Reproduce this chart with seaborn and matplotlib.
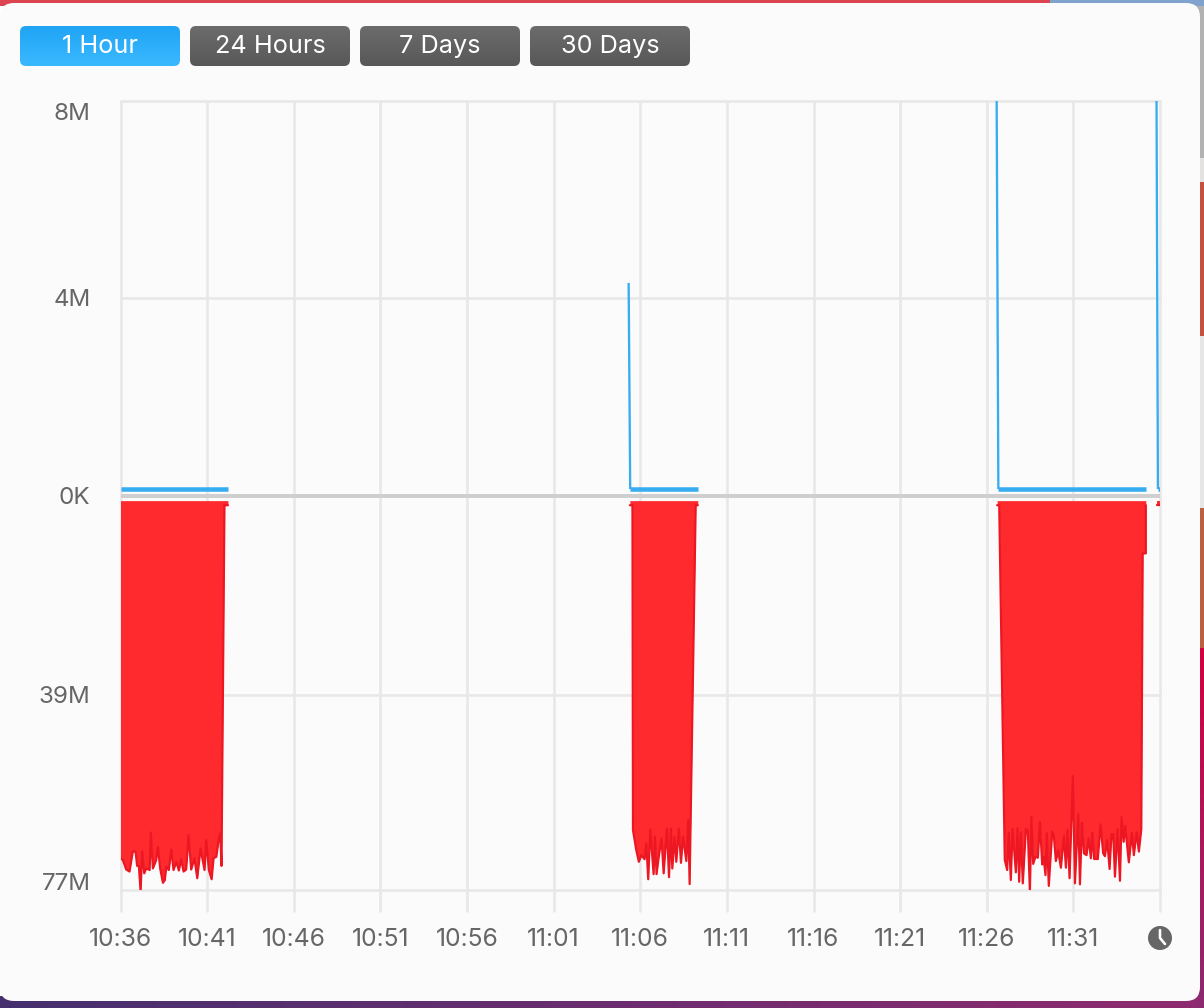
import numpy as np
import seaborn as sns
import matplotlib.pyplot as plt
from matplotlib.colors import to_rgb
from matplotlib.patches import FancyBboxPatch, Rectangle, Circle
from matplotlib.transforms import ScaledTranslation

# minutes since 10:36, values in MB
tick_minutes = [0, 5, 10, 15, 20, 25, 30, 35, 40, 45, 50, 55, 60]
tick_labels = ['10:36', '10:41', '10:46', '10:51', '10:56', '11:01', '11:06',
               '11:11', '11:16', '11:21', '11:26', '11:31', '']
y_ticks = [8, 4, 0, -39, -77]
y_labels = ['8M', '4M', '0K', '39M', '77M']
buttons = ['1 Hour', '24 Hours', '7 Days', '30 Days']

# upload, one list per burst
up1_x = [0, 6.2]
up1_y = [0.13, 0.13]
up2_x = [29.33, 29.42, 33.31]
up2_y = [4.31, 0.13, 0.13]
up3_x = [50.56, 50.67, 59.18]
up3_y = [9, 0.13, 0.13]
up4_x = [59.79, 59.88, 60]
up4_y = [9, 0.13, 0.13]

# download, plotted downwards
down1_x = [0, 0.135, 0.33, 0.52, 0.71, 0.87, 0.96, 1.06, 1.16, 1.25, 1.37, 1.48, 1.68, 1.75, 1.87,
           2.06, 2.16, 2.29, 2.45, 2.56, 2.64, 2.79, 2.93, 3.06, 3.22, 3.37, 3.50, 3.64, 3.79, 3.93,
           4.08, 4.27, 4.43, 4.62, 4.85, 4.95, 5.10, 5.26, 5.37, 5.53, 5.68, 5.76, 5.83, 6.0, 6.2]
down1_y = [70.8, 71.15, 73.0, 73.4, 69.5, 69.5, 72.3, 72.3, 77.3, 69.5, 73.75, 72.8, 73.1, 65.8, 72.8,
           71.15, 68.55, 72.8, 75.6, 75.05, 72.45, 73.1, 69.1, 73.1, 71.5, 73.2, 71.0, 73.4, 73.0, 66.3,
           73.0, 70.8, 74.7, 68.9, 73.1, 67.25, 73.1, 74.9, 70.8, 70.5, 66.9, 65.95, 72.3, 1.9, 1.9]

down2_x = [29.4, 29.55, 29.58, 29.77, 29.92, 30.06, 30.25, 30.35, 30.46, 30.58, 30.77, 30.85, 30.94,
           31.08, 31.23, 31.35, 31.54, 31.66, 31.77, 31.85, 31.98, 32.08, 32.23, 32.35, 32.47, 32.66,
           32.77, 32.85, 33.2, 33.32]
down2_y = [1.9, 1.9, 65.3, 69.2, 71.5, 70.2, 71.0, 67.9, 74.9, 65.2, 73.9, 66.6, 73.9,
           70.2, 66.9, 73.75, 65.0, 74.5, 65.0, 72.8, 66.6, 71.5, 65.0, 71.7, 66.6, 71.35,
           63.35, 75.85, 1.9, 1.9]

down3_x = [50.6, 50.72, 51.04, 51.18, 51.27, 51.39, 51.49, 51.68, 51.78, 51.87, 51.97, 52.08, 52.26,
           52.37, 52.49, 52.58, 52.68, 52.81, 52.95, 53.07, 53.20, 53.28, 53.39, 53.47, 53.58, 53.78,
           53.87, 53.99, 54.12, 54.28, 54.45, 54.57, 54.66, 54.78, 54.97, 55.09, 55.28, 55.38, 55.49,
           55.61, 55.76, 55.88, 56.01, 56.09, 56.20, 56.41, 56.57, 56.72, 56.82, 56.95, 57.09, 57.20,
           57.30, 57.40, 57.55, 57.69, 57.78, 57.90, 57.99, 58.20, 58.38, 58.49, 58.65, 58.78, 58.92,
           59.0, 59.18, 59.18]
down3_y = [1.9, 1.9, 71.15, 73.1, 65.8, 75.05, 65.1, 73.55, 64.95, 75.4, 65.8, 75.7, 65.1,
           65.4, 77.3, 62.7, 71.9, 70.5, 70.7, 63.7, 72.0, 70.5, 74.1, 65.95, 76.2, 65.6,
           66.3, 71.35, 69.3, 72.65, 66.5, 72.65, 65.3, 74.7, 54.8, 75.7, 62.2, 75.9, 63.9,
           69.85, 70.2, 66.9, 70.8, 65.8, 70.95, 70.95, 64.2, 69.85, 70.4, 67.25, 72.9, 66.1,
           66.1, 74.4, 65.15, 75.2, 62.8, 67.6, 64.5, 71.6, 65.8, 70.2, 65.75, 69.5, 65.15,
           11.3, 11.3, 1.9]

down4_x = [59.8, 60]
down4_y = [1.9, 1.9]

BLUE = '#36acf1'
RED_FILL = '#fe2a2e'
RED_LINE = '#ec1722'
GRID = '#e8e8e8'
TEXT = '#666666'
FONT = 'Inter'

sns.set_style('white')
plt.rcParams['font.family'] = [FONT, 'DejaVu Sans']

fig = plt.figure(figsize=(12.04, 10.08), dpi=100)
px = 0.72  # one pixel in points


# window behind the chart, in pixel coordinates
bg = fig.add_axes([0, 0, 1, 1], zorder=0)
bg.axis('off')


def gradient(box, top, bottom, patch=None, horizontal=False):
    c0, c1 = np.array(to_rgb(top)), np.array(to_rgb(bottom))
    t = np.linspace(0, 1, 64)[:, None, None]
    img = c0 * (1 - t) + c1 * t
    if horizontal:
        img = img.transpose(1, 0, 2)
    im = bg.imshow(img, extent=box, aspect='auto', zorder=1, interpolation='bilinear')
    if patch is not None:
        im.set_clip_path(patch)
    return im


bg.add_patch(Rectangle((0, 0), 1050, 6, color='#dc4450', lw=0, zorder=1))
bg.add_patch(Rectangle((1050, 0), 154, 6, color='#7fa3cc', lw=0, zorder=1))
gradient((0, 1204, 1008, 996), '#46306e', '#8f2a70', horizontal=True)
strip = [(6, 158, '#b2b2b2'), (158, 182, '#e4e2e0'), (182, 336, '#c4503f'),
         (336, 508, '#e6e6e6'), (508, 648, '#bb6040')]
for y0, y1, col in strip:
    bg.add_patch(Rectangle((1196, y0), 8, y1 - y0, color=col, lw=0, zorder=1))
gradient((1196, 1204, 1008, 648), '#d2003f', '#8c2a70')

bg.add_patch(FancyBboxPatch((12, 15), 1176, 974, boxstyle='round,pad=12,rounding_size=14',
                            fc='#fbfbfb', ec='none', zorder=2))

for i, name in enumerate(buttons):
    x0 = 20 + i * 170
    patch = FancyBboxPatch((x0 + 6, 32), 148, 28, boxstyle='round,pad=6,rounding_size=6',
                           fc='none', ec='none', zorder=3)
    bg.add_patch(patch)
    if i == 0:
        im = gradient((x0, x0 + 160, 66, 26), '#1fa4f4', '#3bb9ff', patch)
    else:
        im = gradient((x0, x0 + 160, 66, 26), '#6c6c6c', '#585858', patch)
    im.set_zorder(3)
    bg.text(x0 + 80, 46.5, name, color='white', fontsize=18.2, ha='center', va='center', zorder=4)

# clock icon
bg.add_patch(Circle((1160, 938), 12, fc=TEXT, ec='none', zorder=3))
bg.plot([1160, 1160, 1165], [930, 938, 944], color='white', lw=2.6 * px, zorder=4,
        solid_capstyle='round')

bg.set_xlim(0, 1204)
bg.set_ylim(1008, 0)


def forward(y):
    y = np.asarray(y, dtype=float)
    return np.where(y >= 0, y / 8, y / 77)


def inverse(y):
    y = np.asarray(y, dtype=float)
    return np.where(y >= 0, y * 8, y * 77)


ax = fig.add_axes([120.5 / 1204, 1 - 890 / 1008, 1039.5 / 1204, 789 / 1008], zorder=1)
ax.patch.set_alpha(0)
ax.set_yscale('function', functions=(forward, inverse))

for xs, ys in [(down1_x, down1_y), (down2_x, down2_y), (down3_x, down3_y), (down4_x, down4_y)]:
    neg = -np.array(ys)
    ax.fill_between(xs, -1.0, neg, color=RED_FILL, lw=0, zorder=3)
    sns.lineplot(x=xs, y=neg, color=RED_LINE, linewidth=2.2 * px, estimator=None, sort=False,
                 ax=ax, zorder=4)

ax.axhline(0, color='#cfcfcf', linewidth=4 * px, zorder=2.5)

for xs, ys in [(up1_x, up1_y), (up2_x, up2_y), (up3_x, up3_y), (up4_x, up4_y)]:
    # baseline part is thick, the spike is thin
    sns.lineplot(x=xs[-2:], y=ys[-2:], color=BLUE, linewidth=4.5 * px, estimator=None, sort=False,
                 ax=ax, zorder=5, solid_capstyle='butt')
    if len(xs) > 2:
        sns.lineplot(x=xs[:2], y=ys[:2], color=BLUE, linewidth=2.3 * px, estimator=None, sort=False,
                     ax=ax, zorder=5, solid_capstyle='butt')

ax.set_xlim(0, 60)
ax.set_ylim(-77, 8)
ax.set_xticks(tick_minutes)
ax.set_xticklabels(tick_labels)
ax.set_yticks(y_ticks)
ax.set_yticklabels(y_labels)
ax.set_xlabel('')
ax.set_ylabel('')
ax.grid(True, color=GRID, linewidth=2.6 * px, zorder=0)
ax.set_axisbelow(True)
for line in ax.get_xgridlines() + ax.get_ygridlines():
    line.set_clip_on(False)
sns.despine(ax=ax, left=True, bottom=True, top=True, right=True)
ax.tick_params(axis='x', length=22 * px, width=2.6 * px, color=GRID, pad=16 * px,
               labelsize=17.8, labelcolor=TEXT, bottom=True)
ax.tick_params(axis='y', length=0, pad=30 * px, labelsize=17.4, labelcolor=TEXT)

# labels at the two ends sit inside the plot height
for lab, shift in zip(ax.get_yticklabels(), [-10, 1, 0, 1, 8]):
    lab.set_transform(lab.get_transform() + ScaledTranslation(0, shift / 100, fig.dpi_scale_trans))

fig.savefig('out.png', dpi=100)
